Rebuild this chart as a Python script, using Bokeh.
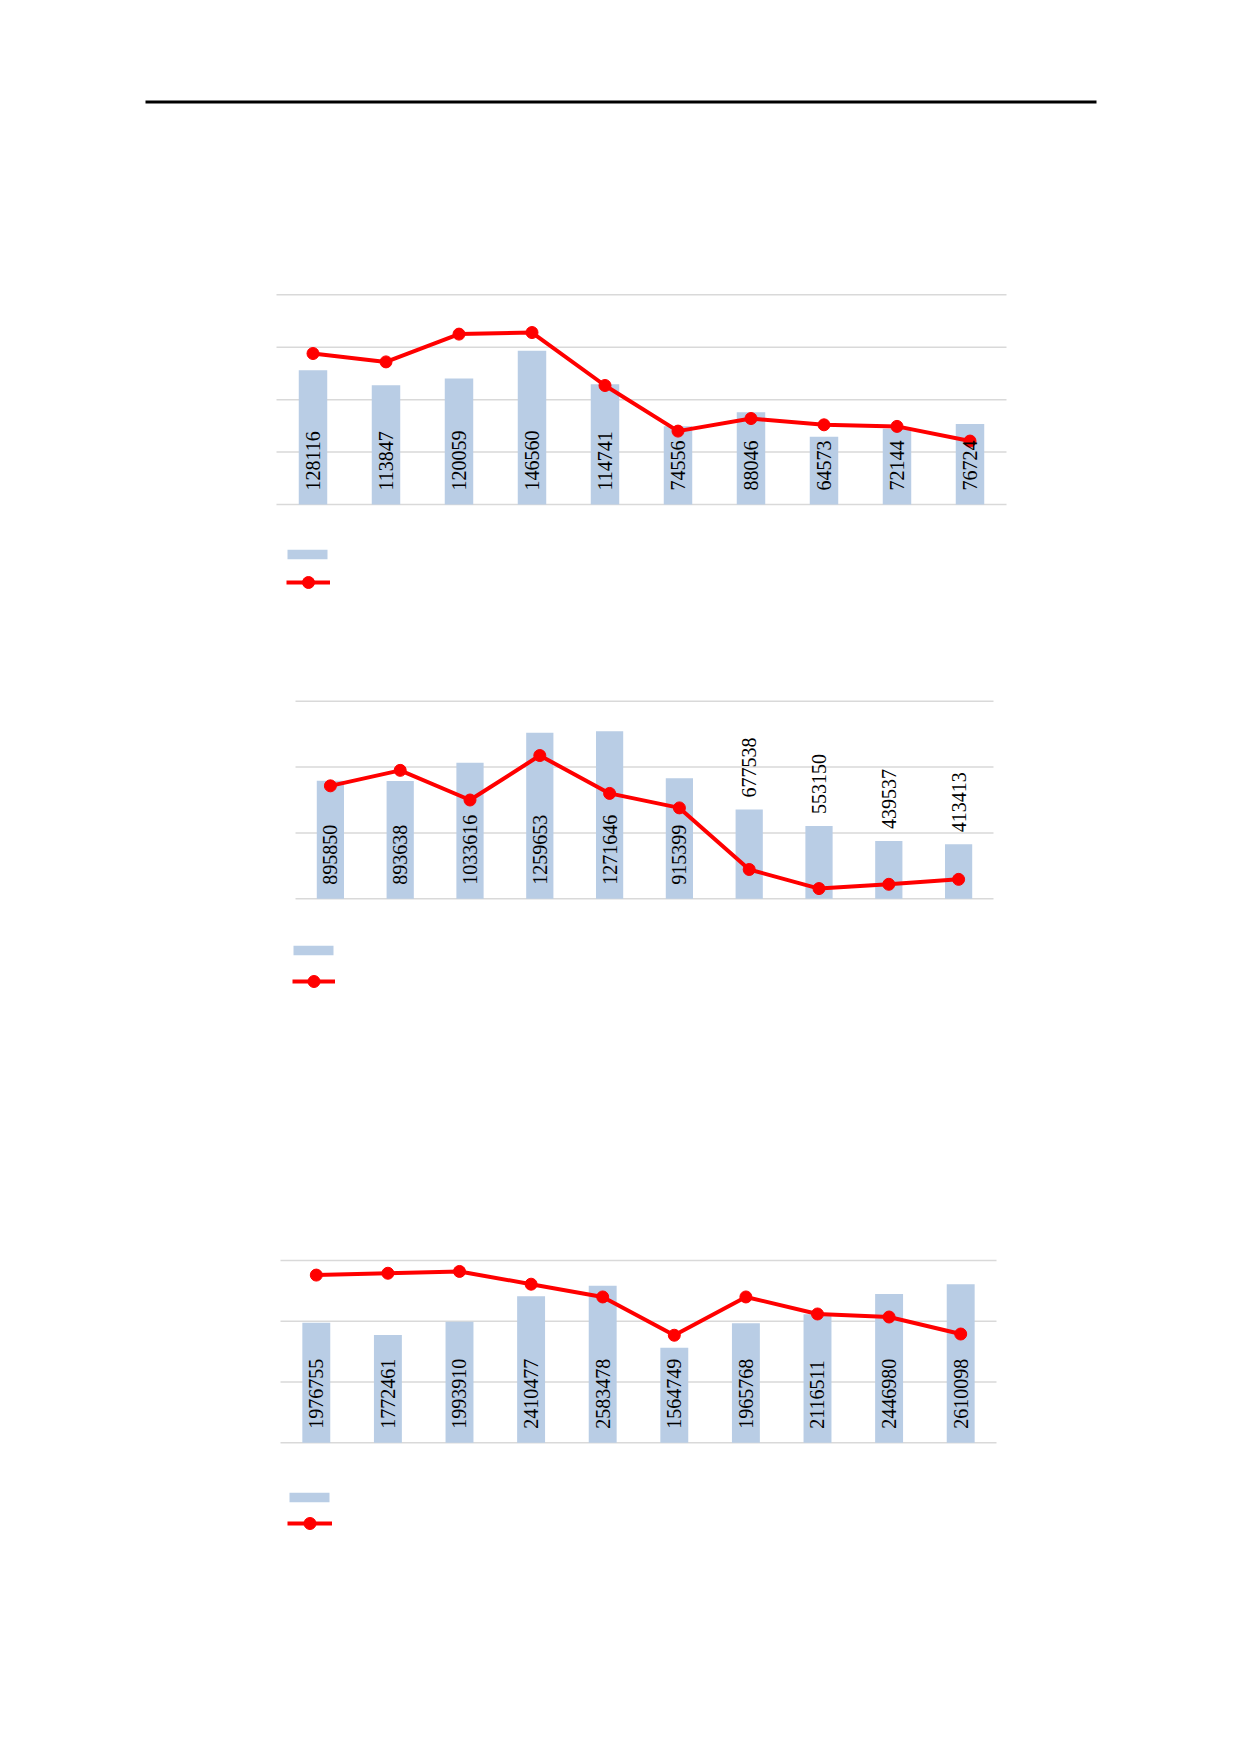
import numpy as np
from bokeh.plotting import figure
from bokeh.models import Range1d, ColumnDataSource, LabelSet, Legend, LegendItem
from bokeh.layouts import column
from bokeh.core.properties import value
from bokeh.embed import file_html
from bokeh.resources import INLINE

# ---------------- data ----------------
periods = [1, 2, 3, 4, 5, 6, 7, 8, 9, 10]

c1_bars = [128116, 113847, 120059, 146560, 114741, 74556, 88046, 64573, 72144, 76724]
c1_line = [28.8, 27.2, 32.5, 32.8, 22.7, 14.0, 16.4, 15.2, 14.9, 12.1]
c1_outside = [False] * 10

c2_bars = [895850, 893638, 1033616, 1259653, 1271646, 915399, 677538, 553150, 439537, 413413]
c2_line = [34.3, 39.0, 30.0, 43.5, 32.0, 27.6, 8.9, 3.1, 4.4, 5.9]
c2_outside = [False, False, False, False, False, False, True, True, True, True]

c3_bars = [1976755, 1772461, 1993910, 2410477, 2583478, 1564749, 1965768, 2116511, 2446980, 2610098]
c3_line = [27.6, 27.9, 28.2, 26.1, 24.0, 17.7, 24.0, 21.2, 20.7, 17.9]
c3_outside = [False] * 10

c1_axis = (200000, 50000, 40)
c2_axis = (1500000, 500000, 60)
c3_axis = (3000000, 1000000, 30)

# ---------------- style / layout ----------------
BAR_COLOR = "#B9CDE5"
LINE_COLOR = "#FF0000"
GRID_COLOR = "#D9D9D9"
FIG_W = 1200
FL, FR = 145, 1096          # common frame (columns align frames)
SW_W, SW_H = 40, 10         # legend bar swatch size (drawn with a 10% inset)


def make_chart(fig_top, fig_bottom, plot_left, plot_right, frame_top, frame_bottom,
               grid_top, grid_bot, bars, line, outside, axis,
               leg_bar_top, leg_bar_left, leg_line_y, leg_line_left, leg_line_w):
    ymax, ystep, rmax = axis
    upp = ymax / (grid_bot - grid_top)
    rupp = rmax / (grid_bot - grid_top)
    cw = (plot_right - plot_left) / len(periods)
    xs = 0.5 - (plot_left - FL) / cw
    xe = len(periods) + 0.5 + (FR - plot_right) / cw
    p = figure(width=FIG_W, height=fig_bottom - fig_top,
               x_range=Range1d(xs, xe),
               y_range=Range1d(-(frame_bottom - grid_bot) * upp, ymax + (grid_top - frame_top) * upp),
               output_backend="svg", toolbar_location=None,
               x_axis_location=None, y_axis_location=None,
               min_border_left=FL, min_border_right=FIG_W - FR,
               min_border_top=frame_top - fig_top, min_border_bottom=fig_bottom - frame_bottom)
    p.extra_y_ranges = {"r": Range1d(-(frame_bottom - grid_bot) * rupp, rmax + (grid_top - frame_top) * rupp)}
    p.outline_line_color = None
    p.grid.visible = False
    p.background_fill_color = "white"
    p.border_fill_color = "white"

    ticks = list(np.arange(0, ymax + ystep / 2, ystep))
    p.segment(x0=[0.5] * len(ticks), x1=[len(periods) + 0.5] * len(ticks), y0=ticks, y1=ticks,
              line_color=GRID_COLOR, line_width=1.5)

    src = ColumnDataSource(dict(
        x=periods, top=bars, line=line,
        ly=[b if o else 0 for b, o in zip(bars, outside)],
        off=[12 if o else 14 for o in outside],
        txt=[str(b) for b in bars]))

    bar_r = p.vbar(x="x", top="top", width=0.39, source=src,
                   fill_color=BAR_COLOR, line_color=None)
    line_r = p.line(x="x", y="line", source=src, y_range_name="r",
                    line_color=LINE_COLOR, line_width=4)
    sc_r = p.scatter(x="x", y="line", source=src, y_range_name="r", size=12,
                     marker="circle", fill_color=LINE_COLOR, line_color=LINE_COLOR)

    labels = LabelSet(x="x", y="ly", text="txt", source=src, angle=np.pi / 2,
                      text_align="left", text_baseline="middle", y_offset="off",
                      text_font=value("Liberation Serif"), text_font_size="20px",
                      text_color="#000000")
    p.add_layout(labels)

    # legend (its texts are absent in the reference)
    gw, gh = SW_W / 0.8, SW_H / 0.8
    lb = Legend(items=[LegendItem(label=value(" "), renderers=[bar_r])],
                location=(leg_bar_left - 0.1 * gw - FL, frame_bottom - (leg_bar_top - 0.1 * gh + gh)),
                glyph_width=int(round(gw)), glyph_height=int(round(gh)),
                label_height=int(round(gh)), label_width=1,
                label_standoff=0, padding=0, margin=0, spacing=0,
                border_line_color=None, background_fill_alpha=0,
                label_text_font_size="1px")
    p.add_layout(lb)
    ll = Legend(items=[LegendItem(label=value(" "), renderers=[line_r, sc_r])],
                location=(leg_line_left - FL, frame_bottom - (leg_line_y + 15)),
                glyph_width=leg_line_w, glyph_height=30, label_height=30, label_width=1,
                label_standoff=0, padding=0, margin=0, spacing=0,
                border_line_color=None, background_fill_alpha=0,
                label_text_font_size="1px")
    p.add_layout(ll)
    return p


# header rule: a thin black frame
hdr = figure(width=FIG_W, height=108, x_range=Range1d(0, 1), y_range=Range1d(0, 1),
             output_backend="svg", toolbar_location=None,
             x_axis_location=None, y_axis_location=None,
             min_border_left=FL, min_border_right=FIG_W - FR,
             min_border_top=100, min_border_bottom=5)
hdr.grid.visible = False
hdr.outline_line_color = None
hdr.background_fill_color = "black"
hdr.border_fill_color = "white"

p1 = make_chart(108, 610, 276, 1006, 291, 600, 294.3, 504.0,
                c1_bars, c1_line, c1_outside, c1_axis,
                549, 287, 581.7, 286, 44)
p2 = make_chart(610, 1000, 295, 993, 697, 995, 700.7, 898.3,
                c2_bars, c2_line, c2_outside, c2_axis,
                945, 293, 981, 292, 43)
p3 = make_chart(1000, 1545, 280, 996, 1256, 1535, 1260.0, 1442.3,
                c3_bars, c3_line, c3_outside, c3_axis,
                1492, 289, 1523, 287, 45)

layout = column(hdr, p1, p2, p3, spacing=0)
open("out.html", "w").write(file_html(layout, INLINE))
